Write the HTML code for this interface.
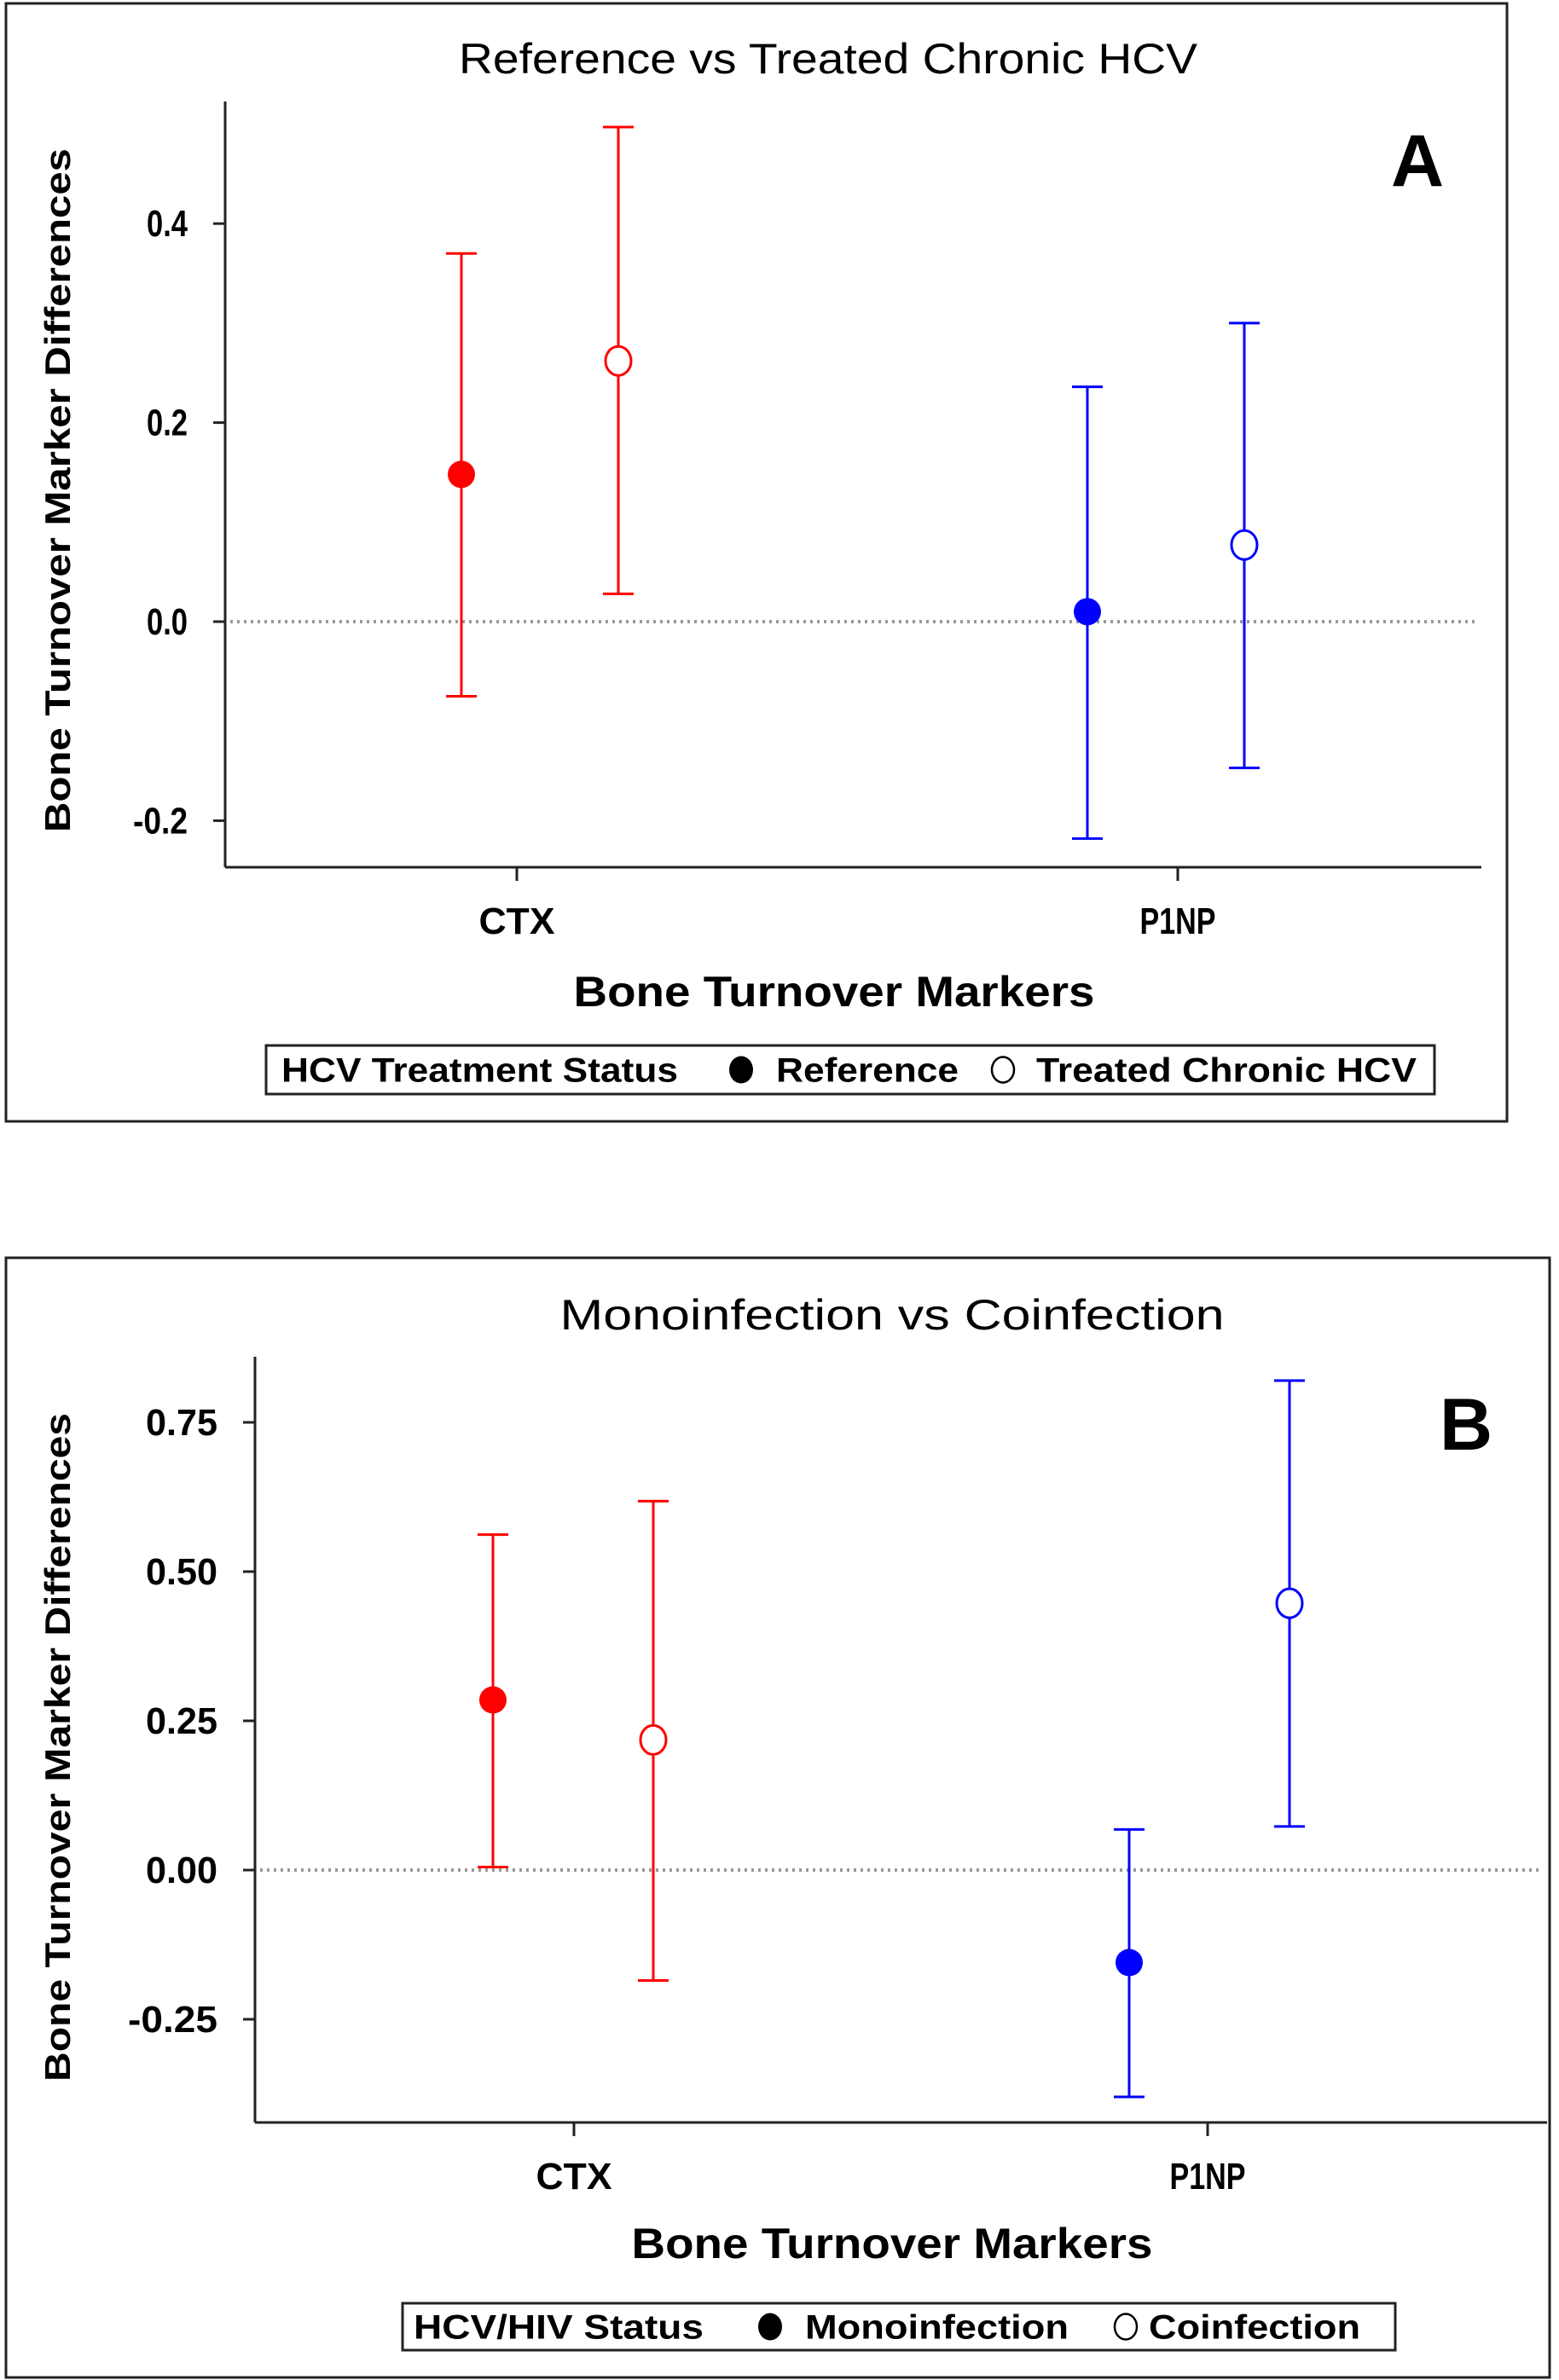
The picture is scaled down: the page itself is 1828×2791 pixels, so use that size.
<!DOCTYPE html>
<html><head><meta charset="utf-8"><style>
html,body{margin:0;padding:0;background:#fff;}
svg{display:block;font-family:"Liberation Sans",Arial,sans-serif;}
</style></head><body>
<svg id="chart" width="1828" height="2791" viewBox="0 0 1828 2791" xmlns="http://www.w3.org/2000/svg"></svg>
<script>
const categories = ["CTX", "P1NP"];
const seriesNamesA = ["Reference", "Treated Chronic HCV"];
const meanA_ref = [0.148, 0.010];
const lowA_ref = [-0.075, -0.218];
const highA_ref = [0.370, 0.236];
const meanA_trt = [0.262, 0.077];
const lowA_trt = [0.028, -0.147];
const highA_trt = [0.497, 0.300];
const ticksA = [-0.2, 0.0, 0.2, 0.4];
const tickLabelsA = ["-0.2", "0.0", "0.2", "0.4"];

const seriesNamesB = ["Monoinfection", "Coinfection"];
const meanB_mono = [0.285, -0.155];
const lowB_mono = [0.005, -0.380];
const highB_mono = [0.562, 0.068];
const meanB_co = [0.218, 0.447];
const lowB_co = [-0.185, 0.073];
const highB_co = [0.618, 0.820];
const ticksB = [-0.25, 0.0, 0.25, 0.5, 0.75];
const tickLabelsB = ["-0.25", "0.00", "0.25", "0.50", "0.75"];

const NS = "http://www.w3.org/2000/svg";
const svg = document.getElementById("chart");
function mk(tag, attrs, parent, text) {
  const e = document.createElementNS(NS, tag);
  for (const k in attrs) e.setAttribute(k, attrs[k]);
  if (text !== undefined) e.textContent = text;
  (parent || svg).appendChild(e);
  return e;
}
const colors = ["#ff0000", "#0000ff"];

function panel(p) {
  const g = mk("g", {});
  
  
  const fr = mk("rect", {x: p.fx, y: p.fy, width: p.fw, height: p.fh, fill: "none", stroke: "#222", "stroke-width": 3}, g);
  
  
  const t = mk("text", {x: p.titleX, y: p.titleY, "text-anchor": "middle", "font-size": 50, textLength: p.titleLen, lengthAdjust: "spacingAndGlyphs"}, g, p.title);
  
  
  const yScale = v => p.y0 - v * p.ppu;
  const xScale = i => p.clusterX[i];
  const ya = mk("line", {x1: p.ax, y1: p.axTop, x2: p.ax, y2: p.axBot, stroke: "#222", "stroke-width": 3}, g);
  
  
  const xa = mk("line", {x1: p.ax, y1: p.axBot, x2: p.axRight, y2: p.axBot, stroke: "#222", "stroke-width": 3}, g);
  
  
  const rl = mk("line", {x1: p.ax + 6, y1: yScale(0), x2: p.axRight - 6, y2: yScale(0), stroke: "#999", "stroke-width": 4, "stroke-dasharray": "3 5"}, g);
  
  
  p.ticks.forEach((v, i) => {
    const y = yScale(v);
    const tl = mk("line", {x1: p.ax - 14, y1: y, x2: p.ax, y2: y, stroke: "#222", "stroke-width": 3}, g);
    
    
    const tx = mk("text", {x: p.ax - 44, y: y + 15, "text-anchor": "end", "font-size": 44, "font-weight": "bold", textLength: p.tickLabels[i].length * p.tickCharW, lengthAdjust: "spacingAndGlyphs"}, g, p.tickLabels[i]);
    
    
  });
  categories.forEach((c, i) => {
    const x = p.tickX[i];
    const tl = mk("line", {x1: x, y1: p.axBot, x2: x, y2: p.axBot + 16, stroke: "#222", "stroke-width": 3}, g);
    
    
    const tx = mk("text", {x: x, y: p.axBot + 78, "text-anchor": "middle", "font-size": 44, "font-weight": "bold", textLength: 89, lengthAdjust: "spacingAndGlyphs"}, g, c);
    
    
  });
  const xt = mk("text", {x: p.xTitleX, y: p.xTitleY, "text-anchor": "middle", "font-size": 50, "font-weight": "bold", textLength: 611, lengthAdjust: "spacingAndGlyphs"}, g, "Bone Turnover Markers");
  
  
  const yt = mk("text", {x: 0, y: 0, "text-anchor": "middle", "font-size": 42, "font-weight": "bold", textLength: p.yTitleLen, lengthAdjust: "spacingAndGlyphs", transform: `translate(${p.yTitleX},${p.yTitleY}) rotate(-90)`}, g, "Bone Turnover Marker Differences");
  
  
  const lt = mk("text", {x: p.letterX, y: p.letterY, "text-anchor": "middle", "font-size": 86, "font-weight": "bold"}, g, p.letter);
  
  
  p.series.forEach((s, si) => {
    categories.forEach((c, i) => {
      const x = xScale(i) + (si === 0 ? -p.off : p.off);
      const col = colors[i];
      const sg = mk("g", {}, g);
      
      
      const yl = yScale(s.low[i]), yh = yScale(s.high[i]), ym = yScale(s.mean[i]);
      mk("line", {x1: x, y1: yh, x2: x, y2: yl, stroke: col, "stroke-width": 3}, sg);
      mk("line", {x1: x - 18, y1: yh, x2: x + 18, y2: yh, stroke: col, "stroke-width": 3}, sg);
      mk("line", {x1: x - 18, y1: yl, x2: x + 18, y2: yl, stroke: col, "stroke-width": 3}, sg);
      if (s.filled) mk("ellipse", {cx: x, cy: ym, rx: 16, ry: 16, fill: col}, sg);
      else mk("ellipse", {cx: x, cy: ym, rx: 15, ry: 17, fill: "#fff", stroke: col, "stroke-width": 3}, sg);
    });
  });
  const lg = mk("g", {}, g);
  
  
  const L = p.legend;
  mk("rect", {x: L.x, y: L.y, width: L.w, height: L.h, fill: "#fff", stroke: "#222", "stroke-width": 3}, lg);
  const ty = L.y + L.h / 2 + 14;
  const lh = mk("text", {x: L.t0[0], y: ty, "font-size": 40, "font-weight": "bold", textLength: L.t0[1], lengthAdjust: "spacingAndGlyphs"}, lg, L.t0[2]);
  
  
  const e1 = mk("g", {}, lg);
  
  
  mk("ellipse", {cx: L.c1, cy: L.y + L.h / 2, rx: 14, ry: 16, fill: "#000"}, e1);
  mk("text", {x: L.t1[0], y: ty, "font-size": 40, "font-weight": "bold", textLength: L.t1[1], lengthAdjust: "spacingAndGlyphs"}, e1, L.t1[2]);
  const e2 = mk("g", {}, lg);
  
  
  mk("ellipse", {cx: L.c2, cy: L.y + L.h / 2, rx: 13, ry: 15, fill: "#fff", stroke: "#000", "stroke-width": 2.5}, e2);
  mk("text", {x: L.t2[0], y: ty, "font-size": 40, "font-weight": "bold", textLength: L.t2[1], lengthAdjust: "spacingAndGlyphs"}, e2, L.t2[2]);
}

panel({
  id: "panel-a", fx: 7, fy: 4, fw: 1760, fh: 1311,
  title: "Reference vs Treated Chronic HCV", titleX: 971, titleY: 86, titleLen: 866,
  ax: 264, axTop: 119, axBot: 1017, axRight: 1737,
  y0: 729, ppu: 1167, ticks: ticksA, tickLabels: tickLabelsA, tickCharW: 16,
  tickX: [606, 1381], clusterX: [633, 1367], off: 92,
  xTitleX: 978, xTitleY: 1180, yTitleX: 82, yTitleY: 575, yTitleLen: 802,
  letter: "A", letterX: 1662, letterY: 218,
  series: [
    {name: seriesNamesA[0], mean: meanA_ref, low: lowA_ref, high: highA_ref, filled: true},
    {name: seriesNamesA[1], mean: meanA_trt, low: lowA_trt, high: highA_trt, filled: false}
  ],
  legend: {x: 312, y: 1226, w: 1370, h: 57, t0: [330, 465, "HCV Treatment Status"], c1: 869, t1: [910, 214, seriesNamesA[0]], c2: 1176, t2: [1215, 446, seriesNamesA[1]]}
});

panel({
  id: "panel-b", fx: 7, fy: 1475, fw: 1810, fh: 1313,
  title: "Monoinfection vs Coinfection", titleX: 1046, titleY: 1559, titleLen: 779,
  ax: 299, axTop: 1591, axBot: 2489, axRight: 1814,
  y0: 2193, ppu: 700, ticks: ticksB, tickLabels: tickLabelsB, tickCharW: 21,
  tickX: [673, 1416], clusterX: [672, 1418], off: 94,
  xTitleX: 1046, xTitleY: 2648, yTitleX: 82, yTitleY: 2049, yTitleLen: 784,
  letter: "B", letterX: 1719, letterY: 1700,
  series: [
    {name: seriesNamesB[0], mean: meanB_mono, low: lowB_mono, high: highB_mono, filled: true},
    {name: seriesNamesB[1], mean: meanB_co, low: lowB_co, high: highB_co, filled: false}
  ],
  legend: {x: 472, y: 2701, w: 1164, h: 55, t0: [485, 340, "HCV/HIV Status"], c1: 903, t1: [944, 309, seriesNamesB[0]], c2: 1320, t2: [1347, 248, seriesNamesB[1]]}
});
</script>
</body></html>
